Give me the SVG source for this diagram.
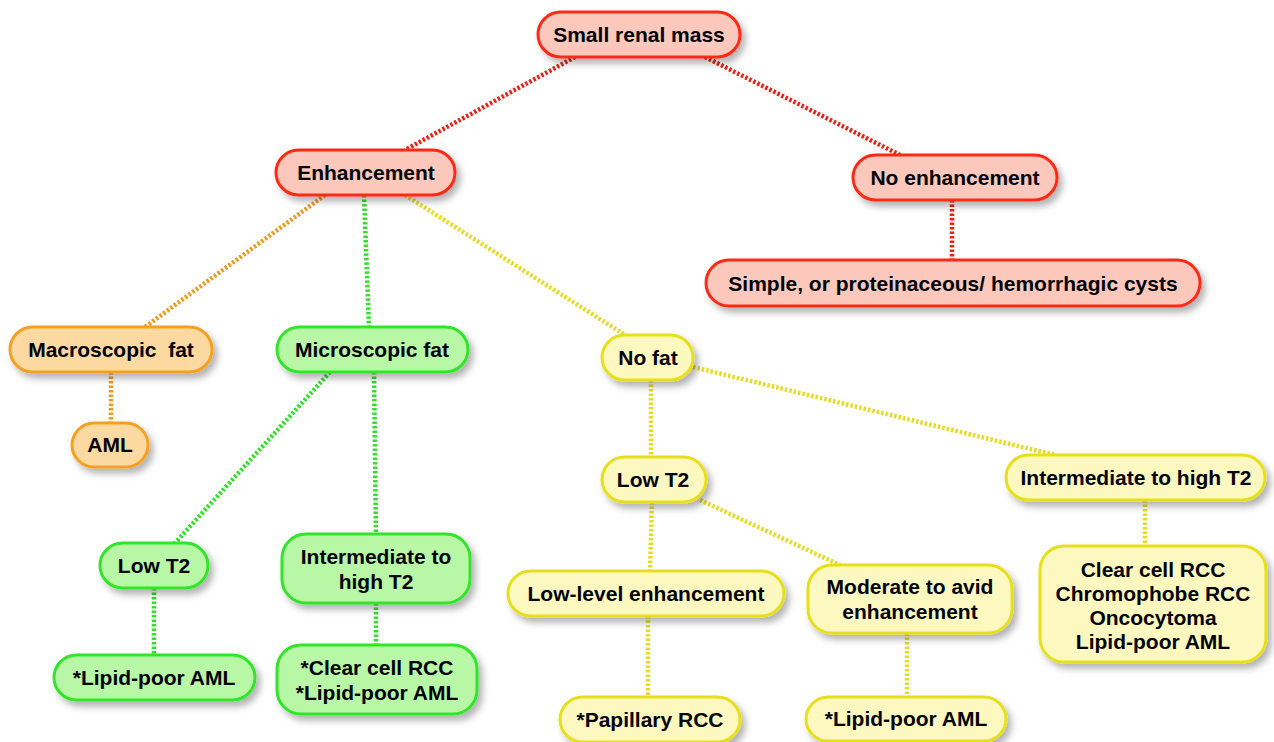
<svg xmlns="http://www.w3.org/2000/svg" width="1274" height="742" viewBox="0 0 1274 742">
<defs>
<filter id="sh" x="-20%" y="-30%" width="140%" height="170%">
<feDropShadow dx="4" dy="5" stdDeviation="3.5" flood-color="#000" flood-opacity="0.3"/>
</filter>
<style>
.n rect{stroke-width:3;filter:url(#sh)}
.r rect{fill:#fcc8bb;stroke:#ff2a12}
.o rect{fill:#fdd9a2;stroke:#f5a020}
.g rect{fill:#b8f7a6;stroke:#33e52a}
.y rect{fill:#fdf8bf;stroke:#e8df1c}
.n text{font-family:"Liberation Sans",Arial,sans-serif;font-weight:bold;font-size:21px;fill:#000;text-anchor:middle}
#conn line{stroke-width:4.5;stroke-dasharray:2.5 2;fill:none}
.cr{stroke:#ee2010}
.co{stroke:#f09a20}
.cg{stroke:#33e02a}
.cy{stroke:#e8dc20}
</style>
</defs>
<rect width="1274" height="742" fill="#fff"/>
<g id="conn">
<line class="cr" x1="575" y1="57" x2="405" y2="150"/>
<line class="cr" x1="705" y1="57" x2="900" y2="155"/>
<line class="cr" x1="952" y1="200" x2="952" y2="260"/>
<line class="co" x1="325" y1="195" x2="145" y2="327"/>
<line class="cg" x1="364" y1="195" x2="369" y2="327"/>
<line class="cy" x1="405" y1="195" x2="625" y2="335"/>
<line class="co" x1="111" y1="372" x2="111" y2="423"/>
<line class="cg" x1="330" y1="372" x2="175" y2="543"/>
<line class="cg" x1="374" y1="372" x2="376" y2="534"/>
<line class="cg" x1="154" y1="588" x2="154" y2="655"/>
<line class="cg" x1="376" y1="603" x2="376" y2="645"/>
<line class="cy" x1="651" y1="380" x2="651" y2="457"/>
<line class="cy" x1="693" y1="367" x2="1055" y2="455"/>
<line class="cy" x1="652" y1="502" x2="650" y2="571"/>
<line class="cy" x1="700" y1="500" x2="840" y2="565"/>
<line class="cy" x1="648" y1="616" x2="648" y2="697"/>
<line class="cy" x1="907" y1="633" x2="907" y2="697"/>
<line class="cy" x1="1145" y1="500" x2="1145" y2="546"/>
</g>
<g id="small-renal-mass" class="n r"><rect x="538" y="12" width="202" height="45" rx="22.5"/><text x="639" y="42">Small renal mass</text></g>
<g id="enhancement" class="n r"><rect x="276" y="150" width="179" height="45" rx="22.5"/><text x="366" y="180">Enhancement</text></g>
<g id="no-enhancement" class="n r"><rect x="853" y="155" width="204" height="45" rx="22.5"/><text x="955" y="185">No enhancement</text></g>
<g id="cysts" class="n r"><rect x="706" y="260" width="494" height="46" rx="23"/><text x="953" y="291">Simple, or proteinaceous/ hemorrhagic cysts</text></g>
<g id="macroscopic-fat" class="n o"><rect x="10" y="327" width="202" height="45" rx="22.5"/><text x="111" y="357" xml:space="preserve">Macroscopic  fat</text></g>
<g id="aml" class="n o"><rect x="72" y="423" width="76" height="44" rx="22"/><text x="110" y="452">AML</text></g>
<g id="microscopic-fat" class="n g"><rect x="277" y="327" width="191" height="45" rx="22.5"/><text x="372" y="357">Microscopic fat</text></g>
<g id="no-fat" class="n y"><rect x="602" y="335" width="91" height="45" rx="22.5"/><text x="648" y="365">No fat</text></g>
<g id="g-low-t2" class="n g"><rect x="100" y="543" width="108" height="45" rx="22.5"/><text x="154" y="573">Low T2</text></g>
<g id="g-int-high-t2" class="n g"><rect x="282" y="534" width="188" height="69" rx="24"/><text x="376" y="564">Intermediate to</text><text x="376" y="589">high T2</text></g>
<g id="g-lipid-poor-aml" class="n g"><rect x="54" y="655" width="201" height="45" rx="22.5"/><text x="154" y="685">*Lipid-poor AML</text></g>
<g id="g-clear-cell" class="n g"><rect x="277" y="645" width="200" height="69" rx="24"/><text x="377" y="675">*Clear cell RCC</text><text x="377" y="700">*Lipid-poor AML</text></g>
<g id="y-low-t2" class="n y"><rect x="602" y="457" width="104" height="45" rx="22.5"/><text x="653" y="487">Low T2</text></g>
<g id="y-int-high-t2" class="n y"><rect x="1006" y="455" width="259" height="45" rx="22.5"/><text x="1136" y="485">Intermediate to high T2</text></g>
<g id="low-level" class="n y"><rect x="508" y="571" width="276" height="45" rx="22.5"/><text x="646" y="601">Low-level enhancement</text></g>
<g id="moderate" class="n y"><rect x="808" y="565" width="204" height="68" rx="24"/><text x="910" y="594">Moderate to avid</text><text x="910" y="619">enhancement</text></g>
<g id="papillary" class="n y"><rect x="560" y="697" width="180" height="45" rx="22.5"/><text x="650" y="727">*Papillary RCC</text></g>
<g id="y-lipid-poor-aml" class="n y"><rect x="806" y="697" width="200" height="44" rx="22"/><text x="906" y="726">*Lipid-poor AML</text></g>
<g id="y-list" class="n y"><rect x="1040" y="546" width="226" height="116" rx="24"/><text x="1153" y="577">Clear cell RCC</text><text x="1153" y="601">Chromophobe RCC</text><text x="1153" y="625">Oncocytoma</text><text x="1153" y="649">Lipid-poor AML</text></g>
</svg>
